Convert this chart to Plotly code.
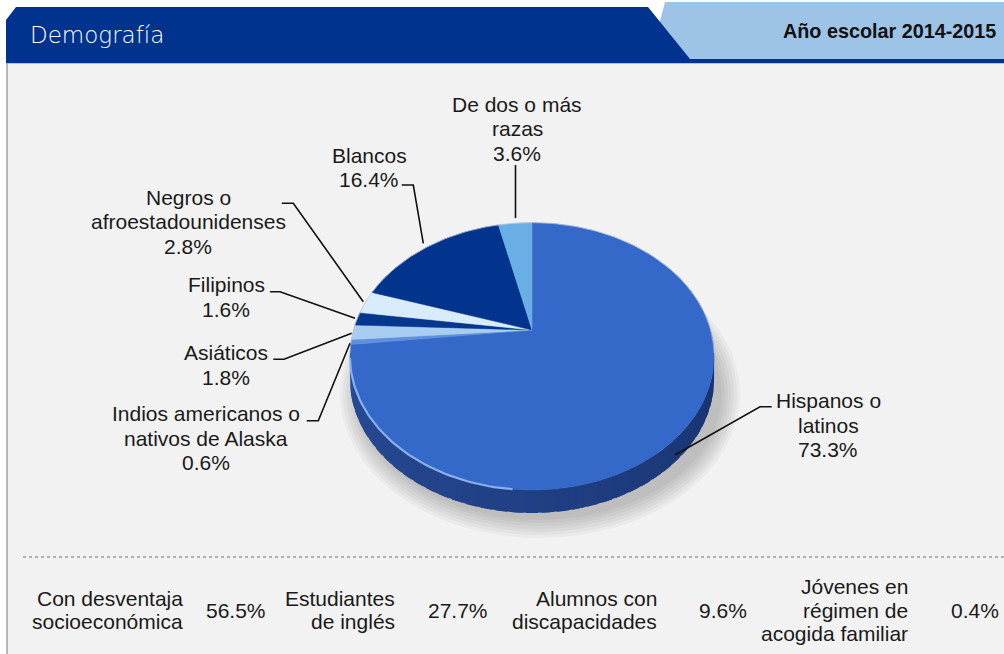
import numpy as np
import plotly.graph_objects as go

# ---------------- data ----------------
ethnic_labels = [
    "Hispanos o<br>latinos",
    "Indios americanos o<br>nativos de Alaska",
    "Asiáticos",
    "Filipinos",
    "Negros o<br>afroestadounidenses",
    "Blancos",
    "De dos o más<br>razas",
]
ethnic_values = [73.3, 0.6, 1.8, 1.6, 2.8, 16.4, 3.6]
slice_colors = ["#3569c9", "#5d90de", "#a9cdf1", "#05378f", "#d9ecfb", "#02348d", "#6aaee6"]

program_labels = [
    "Con desventaja<br>socioeconómica",
    "Estudiantes<br>de inglés",
    "Alumnos con<br>discapacidades",
    "Jóvenes en<br>régimen de<br>acogida familiar",
]
program_values = [56.5, 27.7, 9.6, 0.4]

header_title = "Demografía"
header_year = "Año escolar 2014-2015"

# ---------------- layout constants (pixel space) ----------------
W, H = 1004, 654
CX, CY, A, B, K = 532, 330, 178.5, 128.5, 0.197   # perspective pie projection
DEPTH = 23
FONT = "Liberation Sans, Arial, sans-serif"
TXT = "#1a1a1a"
FS = 21
LABEL_LH = 24.5
BOTTOM_LH = 23.5

label_pos = [(828, 425), (206, 438), (226, 365), (226, 297), (188, 221.5), (369, 167.5), (517, 128.5)]
leaders = [
    [(771.7, 406.7), (760, 406.7), (675, 455)],
    [(306.7, 420.7), (318.3, 420.7), (350, 343.3)],
    [(273.3, 359.3), (284, 359.3), (351.7, 333.3)],
    [(270, 291.7), (280, 291.7), (355, 318.3)],
    [(281.7, 203.3), (293.3, 203.3), (363.3, 301.7)],
    [(401.7, 185), (413.3, 185), (423.3, 243.3)],
    [(515.5, 165), (515.5, 218)],
]
prog_label_x = [185, 397, 659, 910]
prog_value_x = [236, 458, 723, 975]
BOTTOM_Y = 610


def proj(theta_deg):
    t = np.radians(np.asarray(theta_deg, dtype=float))
    u, v = np.sin(t), np.cos(t)
    w = 1 + K * v
    return CX + A * u / w, CY - B * v / w


def mix(c1, c2, f):
    a = [int(c1[i:i + 2], 16) for i in (1, 3, 5)]
    b = [int(c2[i:i + 2], 16) for i in (1, 3, 5)]
    return "rgb(%d,%d,%d)" % tuple(round(a[j] + (b[j] - a[j]) * f) for j in range(3))


def text_block(lines, x, yc, lh, anchor):
    out = []
    n = len(lines)
    for i, ln in enumerate(lines):
        out.append(dict(x=x, y=yc + (i - (n - 1) / 2) * lh, xref="x", yref="y", text=ln,
                        showarrow=False, xanchor=anchor, yanchor="middle",
                        font=dict(family=FONT, size=FS, color=TXT)))
    return out


fig = go.Figure()

# ---- side of the pie (gradient from left to right, overlapping segments) ----
step = 4
for t0 in np.arange(60, 300, step):
    arc = np.linspace(t0 - 1.5, t0 + step + 1.5, 6)
    x, y = proj(arc)
    xs = list(x) + list(x[::-1])
    ys = list(y) + list((y + DEPTH)[::-1])
    f = (300 - (t0 + step / 2)) / 240.0  # 0 at left, 1 at right
    col = mix("#2c52a3", "#142c63", f)
    fig.add_trace(go.Scatter(x=xs, y=ys, mode="lines", fill="toself", fillcolor=col,
                             line=dict(width=0), hoverinfo="skip", showlegend=False))

# ---- top face slices ----
total = sum(ethnic_values)
start = 0.0
for lab, val, col in zip(ethnic_labels, ethnic_values, slice_colors):
    span = val / total * 360.0
    arc = np.linspace(start, start + span, max(3, int(span) + 2))
    x, y = proj(arc)
    xs = [CX] + list(x) + [CX]
    ys = [CY] + list(y) + [CY]
    fig.add_trace(go.Scatter(x=xs, y=ys, mode="lines", fill="toself", fillcolor=col,
                             line=dict(color=col, width=0.5), hoverinfo="skip", showlegend=False))
    start += span

# rim highlight on lower-left edge of top face
hx, hy = proj(np.linspace(185, 258, 60))
fig.add_trace(go.Scatter(x=hx, y=hy, mode="lines", line=dict(color="rgba(150,190,250,0.85)", width=2.2),
                         hoverinfo="skip", showlegend=False))
rx, ry = proj(np.linspace(-100, 100, 120))
fig.add_trace(go.Scatter(x=rx, y=ry, mode="lines", line=dict(color="rgba(200,210,230,0.6)", width=1),
                         hoverinfo="skip", showlegend=False))

# ---- leader lines ----
for pts in leaders:
    fig.add_trace(go.Scatter(x=[p[0] for p in pts], y=[p[1] for p in pts], mode="lines",
                             line=dict(color="#111111", width=1.6), hoverinfo="skip", showlegend=False))

annotations = []
for lab, val, (lx, ly) in zip(ethnic_labels, ethnic_values, label_pos):
    lines = lab.split("<br>") + [f"{val:.1f}%"]
    annotations += text_block(lines, lx, ly, LABEL_LH, "center")

for lab, val, lx, vx in zip(program_labels, program_values, prog_label_x, prog_value_x):
    annotations += text_block(lab.split("<br>"), lx, BOTTOM_Y, BOTTOM_LH, "right")
    annotations += text_block([f"{val:.1f}%"], vx, BOTTOM_Y, BOTTOM_LH, "center")

annotations.append(dict(x=28, y=35, xref="x", yref="y", text=header_title, showarrow=False,
                        xanchor="left", yanchor="middle",
                        font=dict(family="DejaVu Sans", size=23, color="white", weight=300)))
annotations.append(dict(x=998, y=31, xref="x", yref="y", text=f"<b>{header_year}</b>", showarrow=False,
                        xanchor="right", yanchor="middle",
                        font=dict(family=FONT, size=19.8, color="#111111")))

shapes = []
# panel background
shapes.append(dict(type="rect", xref="x", yref="y", x0=7, x1=W + 5, y0=63, y1=H + 5,
                   fillcolor="#f2f2f2", line=dict(color="#8c8c8c", width=1.2), layer="below"))
# pie shadow
for i in range(7):
    e = i * 3
    shapes.append(dict(type="circle", xref="x", yref="y", x0=358 - e, x1=722 + e, y0=268 - e, y1=520 + e,
                       fillcolor="rgba(0,0,0,0.03)", line=dict(width=0), layer="below"))
# header
shapes.append(dict(type="path", xref="x", yref="y",
                   path="M 665 2 L 1010 2 L 1010 59 L 650 59 Z",
                   fillcolor="#9dc3e6", line=dict(width=0), layer="below"))
shapes.append(dict(type="path", xref="x", yref="y",
                   path="M 6 20 L 16 7 L 648 7 L 690 59 L 1010 59 L 1010 63 L 6 63 Z",
                   fillcolor="#00338d", line=dict(width=0), layer="below"))
# dotted separator
shapes.append(dict(type="line", xref="x", yref="y", x0=23, x1=W, y0=557, y1=557,
                   line=dict(color="#9a9a9a", width=1.6, dash="dot"), layer="below"))

fig.update_layout(
    width=W, height=H,
    margin=dict(l=0, r=0, t=0, b=0),
    paper_bgcolor="white", plot_bgcolor="white",
    xaxis=dict(range=[0, W], visible=False, fixedrange=True),
    yaxis=dict(range=[H, 0], visible=False, fixedrange=True),
    annotations=annotations, shapes=shapes, showlegend=False,
)

fig.write_html("out.html", config={"displayModeBar": False, "staticPlot": True},
               post_script="document.body.style.margin='0';")
